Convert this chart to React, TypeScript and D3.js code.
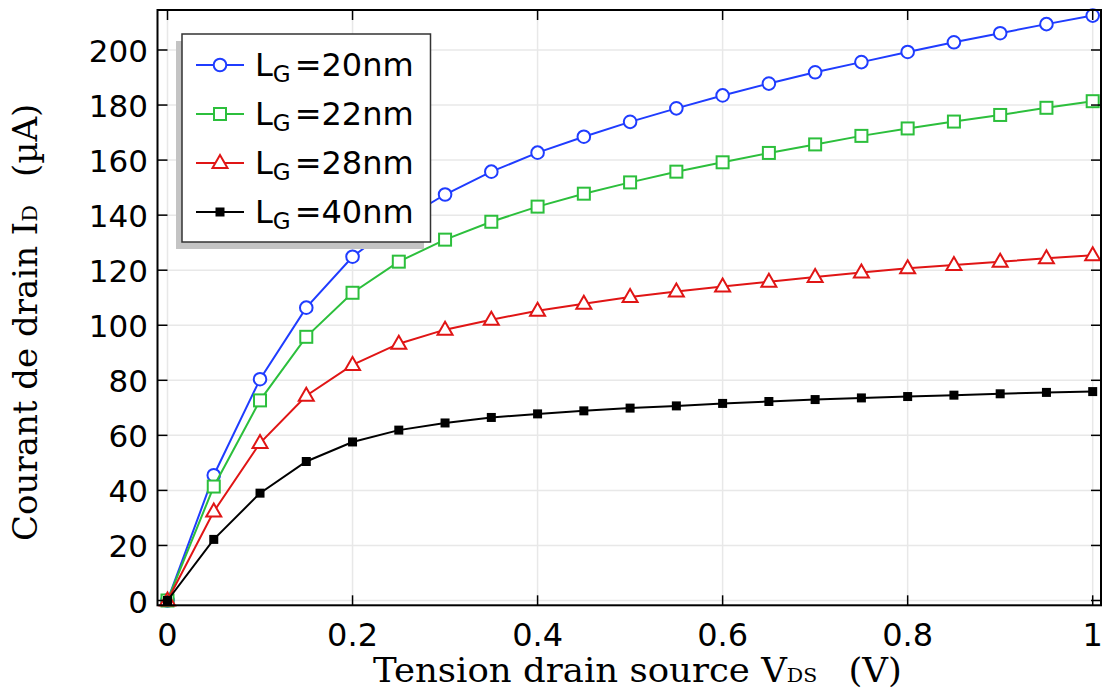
import React from "react";
import * as d3 from "d3";

const vds = [0, 0.05, 0.1, 0.15, 0.2, 0.25, 0.3, 0.35, 0.4, 0.45, 0.5, 0.55, 0.6, 0.65, 0.7, 0.75, 0.8, 0.85, 0.9, 0.95, 1.0];
const lg20 = [0, 45.5, 80.4, 106.4, 124.9, 137.5, 147.5, 155.8, 162.7, 168.5, 173.9, 178.8, 183.5, 187.8, 191.9, 195.6, 199.3, 202.8, 206.1, 209.4, 212.5];
const lg22 = [0, 41.4, 72.7, 95.8, 111.8, 123.1, 131.1, 137.6, 143.1, 147.8, 151.9, 155.8, 159.2, 162.6, 165.7, 168.8, 171.5, 174.0, 176.4, 179.0, 181.4];
const lg28 = [0, 32.3, 57.2, 74.4, 85.6, 93.3, 98.4, 102.0, 105.3, 107.8, 110.3, 112.3, 114.1, 115.8, 117.5, 119.2, 120.7, 121.9, 123.1, 124.3, 125.4];
const lg40 = [0, 22.2, 39.0, 50.5, 57.6, 61.9, 64.5, 66.5, 67.8, 68.9, 69.9, 70.7, 71.6, 72.3, 73.0, 73.6, 74.1, 74.6, 75.1, 75.6, 75.9];

const seriesNames = ["20nm", "22nm", "28nm", "40nm"];
const seriesColors = ["#1f3cff", "#2cbf3c", "#e01515", "#000000"];
const seriesMarkers = ["circle", "square", "triangle", "filledSquare"];
const seriesValues = [lg20, lg22, lg28, lg40];

const xTicks = [0, 0.2, 0.4, 0.6, 0.8, 1];
const xTickLabels = ["0", "0.2", "0.4", "0.6", "0.8", "1"];
const yTicks = [0, 20, 40, 60, 80, 100, 120, 140, 160, 180, 200];

const L = 157.5, R = 1101, T = 10, B = 605.3;

function Marker({ type, x, y, color }: { type: string; x: number; y: number; color: string }) {
  if (type === "circle") return <circle cx={x} cy={y} r={6.3} fill="white" stroke={color} strokeWidth={2} />;
  if (type === "square") return <rect x={x - 6} y={y - 6} width={12} height={12} fill="white" stroke={color} strokeWidth={2} />;
  if (type === "triangle") {
    const p = `${x},${y - 8} ${x + 7.5},${y + 5} ${x - 7.5},${y + 5}`;
    return <polygon points={p} fill="white" stroke={color} strokeWidth={2} />;
  }
  return <rect x={x - 4.5} y={y - 4.5} width={9} height={9} fill={color} />;
}

export default function App() {
  const x = d3.scaleLinear().domain([0, 1]).range([167.5, 1092.7]);
  const y = d3.scaleLinear().domain([0, 200]).range([600.5, 50]);
  const line = d3.line<[number, number]>().x((d) => x(d[0])).y((d) => y(d[1]));

  const sans = "'DejaVu Sans', sans-serif";
  const serif = "'DejaVu Serif', serif";

  const legendRows = [65, 114, 163, 212];

  return (
    <svg width={1104} height={691} style={{ position: "absolute", left: 0, top: 0, background: "white" }}>
      <rect x={0} y={0} width={1104} height={691} fill="white" />
      {/* grid */}
      {xTicks.map((t) => (
        <line key={"gx" + t} x1={x(t)} x2={x(t)} y1={T} y2={B} stroke="#e8e8e8" strokeWidth={1.5} />
      ))}
      {yTicks.map((t) => (
        <line key={"gy" + t} x1={L} x2={R} y1={y(t)} y2={y(t)} stroke="#e8e8e8" strokeWidth={1.5} />
      ))}
      {/* series */}
      {seriesValues.map((vals, i) => {
        const pts = vds.map((v, j) => [v, vals[j]] as [number, number]);
        return (
          <g key={"s" + i}>
            <path d={line(pts) || ""} fill="none" stroke={seriesColors[i]} strokeWidth={2} />
            {pts.map((p, j) => (
              <Marker key={j} type={seriesMarkers[i]} x={x(p[0])} y={y(p[1])} color={seriesColors[i]} />
            ))}
          </g>
        );
      })}
      {/* frame and ticks */}
      <rect x={L} y={T} width={R - L} height={B - T} fill="none" stroke="black" strokeWidth={2} />
      {xTicks.map((t) => (
        <g key={"tx" + t}>
          <line x1={x(t)} x2={x(t)} y1={B} y2={B - 10} stroke="black" strokeWidth={1.5} />
          <line x1={x(t)} x2={x(t)} y1={T} y2={T + 10} stroke="black" strokeWidth={1.5} />
        </g>
      ))}
      {yTicks.map((t) => (
        <g key={"ty" + t}>
          <line x1={L} x2={L + 10} y1={y(t)} y2={y(t)} stroke="black" strokeWidth={1.5} />
          <line x1={R} x2={R - 10} y1={y(t)} y2={y(t)} stroke="black" strokeWidth={1.5} />
        </g>
      ))}
      {/* tick labels */}
      {xTicks.map((t, i) => (
        <text key={"lx" + t} x={x(t)} y={646} textAnchor="middle" fontFamily={sans} fontSize={32} fill="black">
          {xTickLabels[i]}
        </text>
      ))}
      {yTicks.map((t) => (
        <text key={"ly" + t} x={148} y={y(t) + 12} textAnchor="end" fontFamily={sans} fontSize={31} fill="black">
          {t}
        </text>
      ))}
      {/* axis titles */}
      <g transform="translate(373,682) scale(1.077,1)">
        <text x={0} y={0} fontFamily={serif} fontSize={33} fill="black">
          Tension drain source V<tspan fontSize={19}>DS</tspan>
          <tspan dx={29}>(V)</tspan>
        </text>
      </g>
      <g transform="translate(37,541) rotate(-90)">
        <text x={0} y={0} fontFamily={serif} fontSize={34} fill="black">
          Courant de drain I<tspan fontSize={21}>D</tspan>
          <tspan dx={28}>(µA)</tspan>
        </text>
      </g>
      {/* legend */}
      <rect x={176} y={41} width={248} height={208} fill="#c4c4c4" />
      <rect x={182} y={34} width={248.5} height={208} fill="white" stroke="#333" strokeWidth={1.5} />
      {seriesNames.map((n, i) => (
        <g key={"lg" + i}>
          <line x1={196} x2={244} y1={legendRows[i]} y2={legendRows[i]} stroke={seriesColors[i]} strokeWidth={2} />
          <Marker type={seriesMarkers[i]} x={220} y={legendRows[i]} color={seriesColors[i]} />
          <text x={255} y={legendRows[i] + 11} fontFamily={sans} fontSize={32} fill="black">
            L<tspan fontSize={23} dy={6}>G</tspan>
            <tspan dy={-6} dx={4}>={n}</tspan>
          </text>
        </g>
      ))}
    </svg>
  );
}
